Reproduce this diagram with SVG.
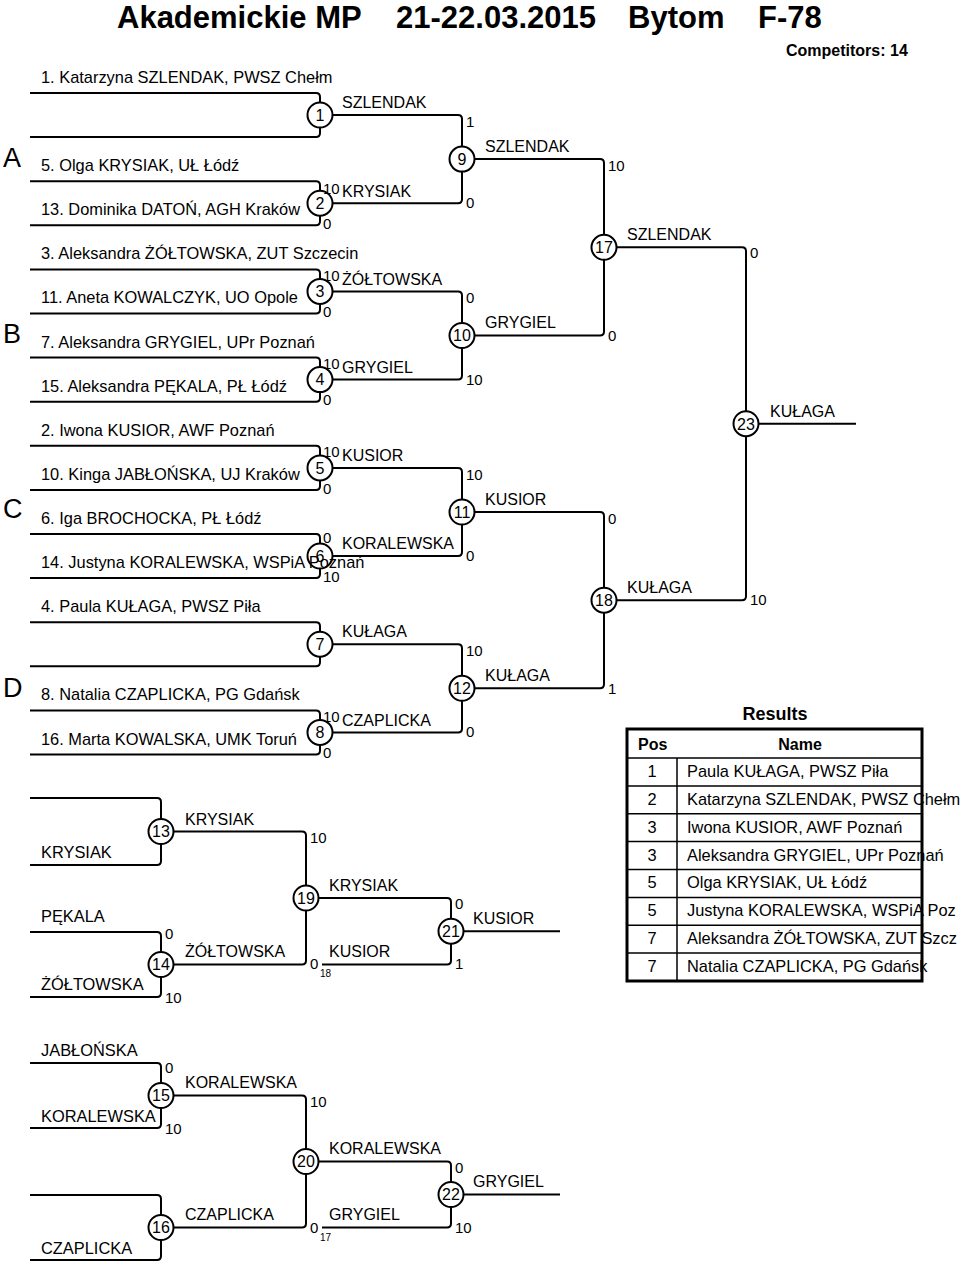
<svg xmlns="http://www.w3.org/2000/svg" width="960" height="1264" viewBox="0 0 960 1264">
<style>
text{font-family:"Liberation Sans",Arial,sans-serif;fill:#000}
.ln{fill:none;stroke:#000;stroke-width:2}
.c{fill:#fff;stroke:#000;stroke-width:2}
.n{font-size:16px}
.e{font-size:16.4px}
.s{font-size:15px}
.sub{font-size:10px}
.cn{font-size:16px;text-anchor:middle}
.g{font-size:27px}
.t{font-size:31px;font-weight:bold}
.b{font-weight:bold}
.tb{fill:none;stroke:#000;stroke-width:3}
.tl{stroke:#000;stroke-width:1.5}
</style>
<g id="title">
<text class="t" x="117" y="28">Akademickie MP</text>
<text class="t" x="396" y="28">21-22.03.2015</text>
<text class="t" x="628" y="28">Bytom</text>
<text class="t" x="758" y="28">F-78</text>
<text class="n b" x="786" y="56">Competitors: 14</text>
</g>
<g id="groups">
<text class="g" x="3" y="167">A</text>
<text class="g" x="3" y="343">B</text>
<text class="g" x="3" y="518">C</text>
<text class="g" x="3" y="697">D</text>
</g>
<g id="connectors" class="ln">
<path d="M30,93H316Q320,93 320,97V115M30,137.1H316Q320,137.1 320,133.1V115"/>
<path d="M30,181.2H316Q320,181.2 320,185.2V203.2M30,225.3H316Q320,225.3 320,221.3V203.2"/>
<path d="M30,269.4H316Q320,269.4 320,273.4V291.4M30,313.5H316Q320,313.5 320,309.5V291.4"/>
<path d="M30,357.6H316Q320,357.6 320,361.6V379.6M30,401.7H316Q320,401.7 320,397.7V379.6"/>
<path d="M30,445.8H316Q320,445.8 320,449.8V467.9M30,489.9H316Q320,489.9 320,485.9V467.9"/>
<path d="M30,534H316Q320,534 320,538V556M30,578.1H316Q320,578.1 320,574.1V556"/>
<path d="M30,622.2H316Q320,622.2 320,626.2V644.2M30,666.3H316Q320,666.3 320,662.3V644.2"/>
<path d="M30,710.4H316Q320,710.4 320,714.4V732.4M30,754.5H316Q320,754.5 320,750.5V732.4"/>
<path d="M320,115H458Q462,115 462,119V159.1M320,203.2H458Q462,203.2 462,199.2V159.1"/>
<path d="M320,291.4H458Q462,291.4 462,295.4V335.5M320,379.6H458Q462,379.6 462,375.6V335.5"/>
<path d="M320,467.9H458Q462,467.9 462,471.9V512M320,556H458Q462,556 462,552V512"/>
<path d="M320,644.2H458Q462,644.2 462,648.2V688.3M320,732.4H458Q462,732.4 462,728.4V688.3"/>
<path d="M462,159.1H600Q604,159.1 604,163.1V247.3M462,335.5H600Q604,335.5 604,331.5V247.3"/>
<path d="M462,512H600Q604,512 604,516V600.2M462,688.3H600Q604,688.3 604,684.3V600.2"/>
<path d="M604,247.3H742Q746,247.3 746,251.3V423.7M604,600.2H742Q746,600.2 746,596.2V423.7"/>
<path d="M746,423.7H856"/>
<path d="M30,798H157Q161,798 161,802V831.5M30,865H157Q161,865 161,861V831.5"/>
<path d="M30,932H157Q161,932 161,936V964.5M30,997H157Q161,997 161,993V964.5"/>
<path d="M161,831.5H302Q306,831.5 306,835.5V898M161,964.5H302Q306,964.5 306,960.5V898"/>
<path d="M306,898H447Q451,898 451,902V931.2M322,964.5H447Q451,964.5 451,960.5V931.2"/>
<path d="M451,931.2H560"/>
<path d="M30,1063H157Q161,1063 161,1067V1095.5M30,1128H157Q161,1128 161,1124V1095.5"/>
<path d="M30,1195H157Q161,1195 161,1199V1227.5M30,1260H157Q161,1260 161,1256V1227.5"/>
<path d="M161,1095.5H302Q306,1095.5 306,1099.5V1161.5M161,1227.5H302Q306,1227.5 306,1223.5V1161.5"/>
<path d="M306,1161.5H447Q451,1161.5 451,1165.5V1194.5M322,1227.5H447Q451,1227.5 451,1223.5V1194.5"/>
<path d="M451,1194.5H560"/>
</g>
<g id="m1"><circle class="c" cx="320" cy="115" r="12.5"/><text class="cn" x="320" y="120.8">1</text></g>
<g id="m2"><circle class="c" cx="320" cy="203.2" r="12.5"/><text class="cn" x="320" y="209">2</text></g>
<g id="m3"><circle class="c" cx="320" cy="291.4" r="12.5"/><text class="cn" x="320" y="297.2">3</text></g>
<g id="m4"><circle class="c" cx="320" cy="379.6" r="12.5"/><text class="cn" x="320" y="385.4">4</text></g>
<g id="m5"><circle class="c" cx="320" cy="467.9" r="12.5"/><text class="cn" x="320" y="473.7">5</text></g>
<g id="m6"><circle class="c" cx="320" cy="556" r="12.5"/><text class="cn" x="320" y="561.8">6</text></g>
<g id="m7"><circle class="c" cx="320" cy="644.2" r="12.5"/><text class="cn" x="320" y="650">7</text></g>
<g id="m8"><circle class="c" cx="320" cy="732.4" r="12.5"/><text class="cn" x="320" y="738.2">8</text></g>
<g id="m9"><circle class="c" cx="462" cy="159.1" r="12.5"/><text class="cn" x="462" y="164.9">9</text></g>
<g id="m10"><circle class="c" cx="462" cy="335.5" r="12.5"/><text class="cn" x="462" y="341.3">10</text></g>
<g id="m11"><circle class="c" cx="462" cy="512" r="12.5"/><text class="cn" x="462" y="517.8">11</text></g>
<g id="m12"><circle class="c" cx="462" cy="688.3" r="12.5"/><text class="cn" x="462" y="694.1">12</text></g>
<g id="m17"><circle class="c" cx="604" cy="247.3" r="12.5"/><text class="cn" x="604" y="253.1">17</text></g>
<g id="m18"><circle class="c" cx="604" cy="600.2" r="12.5"/><text class="cn" x="604" y="606">18</text></g>
<g id="m23"><circle class="c" cx="746" cy="423.7" r="12.5"/><text class="cn" x="746" y="429.5">23</text></g>
<g id="m13"><circle class="c" cx="161" cy="831.5" r="12.5"/><text class="cn" x="161" y="837.3">13</text></g>
<g id="m14"><circle class="c" cx="161" cy="964.5" r="12.5"/><text class="cn" x="161" y="970.3">14</text></g>
<g id="m19"><circle class="c" cx="306" cy="898" r="12.5"/><text class="cn" x="306" y="903.8">19</text></g>
<g id="m21"><circle class="c" cx="451" cy="931.2" r="12.5"/><text class="cn" x="451" y="937">21</text></g>
<g id="m15"><circle class="c" cx="161" cy="1095.5" r="12.5"/><text class="cn" x="161" y="1101.3">15</text></g>
<g id="m16"><circle class="c" cx="161" cy="1227.5" r="12.5"/><text class="cn" x="161" y="1233.3">16</text></g>
<g id="m20"><circle class="c" cx="306" cy="1161.5" r="12.5"/><text class="cn" x="306" y="1167.3">20</text></g>
<g id="m22"><circle class="c" cx="451" cy="1194.5" r="12.5"/><text class="cn" x="451" y="1200.3">22</text></g>
<g id="entries" class="e">
<text x="41" y="83">1. Katarzyna SZLENDAK, PWSZ Chełm</text>
<text x="41" y="171">5. Olga KRYSIAK, UŁ Łódź</text>
<text x="41" y="215">13. Dominika DATOŃ, AGH Kraków</text>
<text x="41" y="259">3. Aleksandra ŻÓŁTOWSKA, ZUT Szczecin</text>
<text x="41" y="303">11. Aneta KOWALCZYK, UO Opole</text>
<text x="41" y="348">7. Aleksandra GRYGIEL, UPr Poznań</text>
<text x="41" y="392">15. Aleksandra PĘKALA, PŁ Łódź</text>
<text x="41" y="436">2. Iwona KUSIOR, AWF Poznań</text>
<text x="41" y="480">10. Kinga JABŁOŃSKA, UJ Kraków</text>
<text x="41" y="524">6. Iga BROCHOCKA, PŁ Łódź</text>
<text x="41" y="568">14. Justyna KORALEWSKA, WSPiA Poznań</text>
<text x="41" y="612">4. Paula KUŁAGA, PWSZ Piła</text>
<text x="41" y="700">8. Natalia CZAPLICKA, PG Gdańsk</text>
<text x="41" y="745">16. Marta KOWALSKA, UMK Toruń</text>
<text x="41" y="858">KRYSIAK</text>
<text x="41" y="922">PĘKALA</text>
<text x="41" y="990">ŻÓŁTOWSKA</text>
<text x="41" y="1056">JABŁOŃSKA</text>
<text x="41" y="1122">KORALEWSKA</text>
<text x="41" y="1254">CZAPLICKA</text>
</g>
<g id="winners" class="n">
<text x="342" y="108">SZLENDAK</text>
<text x="342" y="197">KRYSIAK</text>
<text x="342" y="285">ŻÓŁTOWSKA</text>
<text x="342" y="373">GRYGIEL</text>
<text x="342" y="461">KUSIOR</text>
<text x="342" y="549">KORALEWSKA</text>
<text x="342" y="637">KUŁAGA</text>
<text x="342" y="726">CZAPLICKA</text>
<text x="485" y="152">SZLENDAK</text>
<text x="485" y="328">GRYGIEL</text>
<text x="485" y="505">KUSIOR</text>
<text x="485" y="681">KUŁAGA</text>
<text x="627" y="240">SZLENDAK</text>
<text x="627" y="593">KUŁAGA</text>
<text x="770" y="417">KUŁAGA</text>
<text x="185" y="825">KRYSIAK</text>
<text x="185" y="957">ŻÓŁTOWSKA</text>
<text x="329" y="891">KRYSIAK</text>
<text x="329" y="957">KUSIOR</text>
<text x="473" y="924">KUSIOR</text>
<text x="185" y="1088">KORALEWSKA</text>
<text x="185" y="1220">CZAPLICKA</text>
<text x="329" y="1154">KORALEWSKA</text>
<text x="329" y="1220">GRYGIEL</text>
<text x="473" y="1187">GRYGIEL</text>
</g>
<g id="scores" class="s">
<text x="323" y="194">10</text><text x="323" y="229">0</text>
<text x="323" y="281">10</text><text x="323" y="317">0</text>
<text x="323" y="369">10</text><text x="323" y="405">0</text>
<text x="323" y="457">10</text><text x="323" y="494">0</text>
<text x="323" y="543">0</text><text x="323" y="582">10</text>
<text x="323" y="722">10</text><text x="323" y="758">0</text>
<text x="466" y="127">1</text><text x="466" y="208">0</text>
<text x="466" y="303">0</text><text x="466" y="385">10</text>
<text x="466" y="480">10</text><text x="466" y="561">0</text>
<text x="466" y="656">10</text><text x="466" y="737">0</text>
<text x="608" y="171">10</text><text x="608" y="341">0</text>
<text x="608" y="524">0</text><text x="608" y="694">1</text>
<text x="750" y="258">0</text><text x="750" y="605">10</text>
<text x="165" y="939">0</text><text x="165" y="1003">10</text>
<text x="310" y="843">10</text><text x="310" y="969">0</text><text class="sub" x="320" y="977">18</text>
<text x="455" y="909">0</text><text x="455" y="969">1</text>
<text x="165" y="1073">0</text><text x="165" y="1134">10</text>
<text x="310" y="1107">10</text><text x="310" y="1233">0</text><text class="sub" x="320" y="1241">17</text>
<text x="455" y="1173">0</text><text x="455" y="1233">10</text>
</g>
<g id="results">
<text class="b" x="775" y="720" text-anchor="middle" style="font-size:18px">Results</text>
<rect class="tb" x="627" y="729" width="295" height="252"/>
<line class="tl" x1="627" y1="758" x2="922" y2="758"/>
<line class="tl" x1="677" y1="758" x2="677" y2="981"/>
<line class="tl" x1="627" y1="785.9" x2="922" y2="785.9"/>
<line class="tl" x1="627" y1="813.75" x2="922" y2="813.75"/>
<line class="tl" x1="627" y1="841.6" x2="922" y2="841.6"/>
<line class="tl" x1="627" y1="869.5" x2="922" y2="869.5"/>
<line class="tl" x1="627" y1="897.4" x2="922" y2="897.4"/>
<line class="tl" x1="627" y1="925.25" x2="922" y2="925.25"/>
<line class="tl" x1="627" y1="953.1" x2="922" y2="953.1"/>
<text class="n b" x="638" y="750">Pos</text>
<text class="n b" x="800" y="750" text-anchor="middle">Name</text>
<g class="e">
<text x="652" y="777" text-anchor="middle">1</text><text x="687" y="777">Paula KUŁAGA, PWSZ Piła</text>
<text x="652" y="805" text-anchor="middle">2</text><text x="687" y="805">Katarzyna SZLENDAK, PWSZ Chełm</text>
<text x="652" y="833" text-anchor="middle">3</text><text x="687" y="833">Iwona KUSIOR, AWF Poznań</text>
<text x="652" y="861" text-anchor="middle">3</text><text x="687" y="861">Aleksandra GRYGIEL, UPr Poznań</text>
<text x="652" y="888" text-anchor="middle">5</text><text x="687" y="888">Olga KRYSIAK, UŁ Łódź</text>
<text x="652" y="916" text-anchor="middle">5</text><text x="687" y="916">Justyna KORALEWSKA, WSPiA Poz</text>
<text x="652" y="944" text-anchor="middle">7</text><text x="687" y="944">Aleksandra ŻÓŁTOWSKA, ZUT Szcz</text>
<text x="652" y="972" text-anchor="middle">7</text><text x="687" y="972">Natalia CZAPLICKA, PG Gdańsk</text>
</g>
</g>
</svg>
